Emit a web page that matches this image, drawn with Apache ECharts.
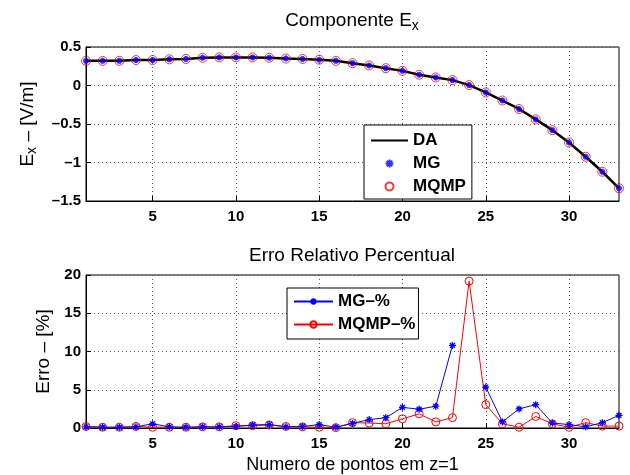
<!DOCTYPE html>
<html>
<head>
<meta charset="utf-8">
<script src="https://cdn.jsdelivr.net/npm/echarts@6/dist/echarts.min.js"></script>
<style>html,body{margin:0;padding:0;background:#fff}#c{width:630px;height:475px}</style>
</head>
<body>
<div id="c"></div>
<script>
// ---- data ----
const zPoints = [1,2,3,4,5,6,7,8,9,10,11,12,13,14,15,16,17,18,19,20,21,22,23,24,25,26,27,28,29,30,31,32,33];
const exDA   = [0.32,0.32,0.32,0.33,0.33,0.34,0.345,0.36,0.365,0.365,0.365,0.36,0.35,0.345,0.335,0.32,0.29,0.26,0.225,0.19,0.14,0.105,0.07,0.005,-0.09,-0.195,-0.305,-0.44,-0.58,-0.74,-0.925,-1.12,-1.335];
const exMG   = [0.32,0.32,0.32,0.33,0.33,0.34,0.345,0.36,0.365,0.365,0.365,0.36,0.35,0.345,0.335,0.32,0.29,0.26,0.225,0.19,0.14,0.105,0.07,0.005,-0.09,-0.195,-0.305,-0.44,-0.58,-0.74,-0.925,-1.12,-1.335];
const exMQMP = [0.32,0.32,0.32,0.33,0.33,0.34,0.345,0.36,0.365,0.365,0.365,0.36,0.35,0.345,0.335,0.32,0.29,0.26,0.225,0.19,0.14,0.105,0.07,0.005,-0.09,-0.195,-0.305,-0.44,-0.58,-0.74,-0.925,-1.12,-1.335];
const errMG   = [0.15,0.1,0.1,0.15,0.55,0.15,0.1,0.15,0.15,0.2,0.4,0.45,0.15,0.2,0.45,0.1,0.6,1.1,1.35,2.7,2.45,2.85,10.8,null,5.35,0.8,2.5,3.05,0.65,0.45,0.15,0.7,1.65];
const errMQMP = [0.2,0.1,0.1,0.2,0.1,0.1,0.1,0.15,0.15,0.3,0.3,0.4,0.2,0.15,0.1,0.05,0.7,0.65,0.55,1.2,1.85,0.8,1.35,19.2,3.05,0.55,0.1,1.5,0.55,0.1,0.7,0.25,0.25];
const xTickValues = [5,10,15,20,25,30];
const seriesNamesTop = ['DA','MG','MQMP'];
const seriesNamesBottom = ['MG–%','MQMP–%'];

const FONT = 'Liberation Sans';
const STAR = 'path://M5,0L5,10M0,5L10,5M1.5,1.5L8.5,8.5M1.5,8.5L8.5,1.5';
const LINE_ICON = 'path://M0,0L40,0L40,2.4L0,2.4Z';
const pairs = (ys) => zPoints.map((x, i) => [x, ys[i]]);

const xAxisBase = (gridIndex, withName) => ({
  type: 'value', gridIndex, min: 1, max: 33,
  axisLine: {show: true, onZero: false, lineStyle: {color: '#000', width: 1}},
  axisTick: {show: true, inside: true, length: 5, customValues: xTickValues, lineStyle: {color: '#000'}},
  axisLabel: {customValues: xTickValues, color: '#000', fontFamily: FONT, fontWeight: 'bold', fontSize: 15, margin: 8},
  splitLine: {show: true, lineStyle: {color: '#555', type: [1, 3], width: 1}},
  name: withName ? 'Numero de pontos em z=1' : '',
  nameLocation: 'middle', nameGap: 28,
  nameTextStyle: {color: '#000', fontFamily: FONT, fontSize: 18}
});

const yAxisBase = (gridIndex, min, max, interval, name, gap) => ({
  type: 'value', gridIndex, min, max, interval,
  axisLine: {show: true, lineStyle: {color: '#000', width: 1}},
  axisTick: {show: true, inside: true, length: 5, lineStyle: {color: '#000'}},
  axisLabel: {color: '#000', fontFamily: FONT, fontWeight: 'bold', fontSize: 15, margin: 5,
    formatter: v => String(v).replace('-', '–')},
  splitLine: {show: true, lineStyle: {color: '#555', type: [1, 3], width: 1}},
  name, nameLocation: 'middle', nameRotate: 90, nameGap: gap,
  nameTextStyle: {color: '#000', fontFamily: FONT, fontSize: 19,
    rich: {m: {fontFamily: FONT, fontSize: 19, color: '#000'},
           s: {fontFamily: FONT, fontSize: 14, color: '#000', padding: [8, 0, 0, 0]}}}
});

const chart = echarts.init(document.getElementById('c'), null, {renderer: 'canvas'});
chart.setOption({
  animation: false,
  backgroundColor: '#fff',
  grid: [
    {left: 86, right: 11, top: 47, height: 154, show: true, borderColor: '#000', borderWidth: 1, containLabel: false},
    {left: 86, right: 11, top: 275, height: 153, show: true, borderColor: '#000', borderWidth: 1, containLabel: false}
  ],
  graphic: [
    {type: 'text', x: 352, y: 11, style: {text: '{m|Componente E}{s|x}', align: 'center', verticalAlign: 'top',
      rich: {m: {fontFamily: FONT, fontSize: 19, lineHeight: 22, fill: '#000', verticalAlign: 'top'},
             s: {fontFamily: FONT, fontSize: 14, lineHeight: 22, fill: '#000', padding: [8, 0, 0, 0], verticalAlign: 'top'}}}},
    {type: 'text', x: 352, y: 246, style: {text: 'Erro Relativo Percentual', align: 'center', verticalAlign: 'top',
      fontFamily: FONT, fontSize: 19, fill: '#000'}}
  ],
  xAxis: [xAxisBase(0, false), xAxisBase(1, true)],
  yAxis: [
    yAxisBase(0, -1.5, 0.5, 0.5, '{m|E}{s|x}{m| – [V/m]}', 47),
    yAxisBase(1, 0, 20, 5, 'Erro – [%]', 27)
  ],
  legend: [
    {data: [{name: seriesNamesTop[0], icon: LINE_ICON}, seriesNamesTop[1], seriesNamesTop[2]],
     orient: 'vertical', left: 364, top: 125, itemWidth: 37, itemHeight: 8, itemGap: 6,
     padding: [7, 6, 4, 7], backgroundColor: '#fff', borderColor: '#000', borderWidth: 1, borderRadius: 0,
     selectedMode: false, textStyle: {color: '#000', fontFamily: FONT, fontWeight: 'bold', fontSize: 17}},
    {data: seriesNamesBottom, orient: 'vertical', left: 287, top: 288, itemWidth: 39, itemHeight: 8, itemGap: 6,
     padding: [5, 3, 6, 6], backgroundColor: '#fff', borderColor: '#000', borderWidth: 1, borderRadius: 0,
     selectedMode: false, textStyle: {color: '#000', fontFamily: FONT, fontWeight: 'bold', fontSize: 17}}
  ],
  series: [
    {name: seriesNamesTop[0], type: 'line', xAxisIndex: 0, yAxisIndex: 0, data: pairs(exDA), symbol: 'none',
     lineStyle: {color: '#000', width: 2.5}, itemStyle: {color: '#000'}, z: 2},
    {name: seriesNamesTop[1], type: 'scatter', xAxisIndex: 0, yAxisIndex: 0, data: pairs(exMG), symbol: STAR, symbolSize: 6,
     itemStyle: {color: '#0000ff', borderColor: '#0000ff', borderWidth: 2}, z: 4},
    {name: seriesNamesTop[2], type: 'scatter', xAxisIndex: 0, yAxisIndex: 0, data: pairs(exMQMP), symbol: 'circle', symbolSize: 9,
     itemStyle: {color: 'rgba(0,0,0,0)', borderColor: '#ff0000', borderWidth: 1}, z: 3},
    {name: seriesNamesBottom[0], type: 'line', xAxisIndex: 1, yAxisIndex: 1, data: pairs(errMG), connectNulls: false,
     symbol: STAR, symbolSize: 7, showSymbol: true,
     lineStyle: {color: '#0000ff', width: 1}, itemStyle: {color: '#0000ff', borderColor: '#0000ff', borderWidth: 1.3}, z: 3},
    {name: seriesNamesBottom[1], type: 'line', xAxisIndex: 1, yAxisIndex: 1, data: pairs(errMQMP), connectNulls: false,
     symbol: 'circle', symbolSize: 8, showSymbol: true,
     lineStyle: {color: '#ff0000', width: 1}, itemStyle: {color: 'rgba(0,0,0,0)', borderColor: '#ff0000', borderWidth: 1}, z: 2}
  ]
});
</script>
</body>
</html>
